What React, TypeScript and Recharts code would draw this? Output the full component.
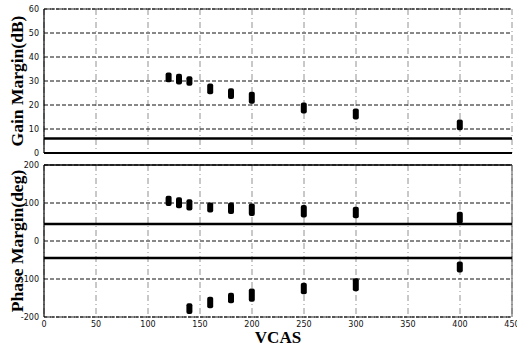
import React from 'react';
import { ComposedChart, Bar, XAxis, YAxis, CartesianGrid, ReferenceLine } from 'recharts';

const vcas = [120, 130, 140, 160, 180, 200, 250, 300, 400];
const gainLow = [29.5, 28.5, 28, 24.5, 22.5, 20.5, 16.5, 14, 9.5];
const gainHigh = [33.5, 33, 32, 29, 27, 25.5, 21, 18.5, 14];
const phaseUpLow = [92, 86, 80, 75, 71, 66, 62, 60, 46];
const phaseUpHigh = [119, 115, 110, 101, 101, 99, 95, 90, 77];
const phaseLoLow = [null, null, -192, -177, -164, -160, -140, -132, -83];
const phaseLoHigh = [null, null, -164, -147, -136, -125, -110, -98, -54];

const xTicks = [0, 50, 100, 150, 200, 250, 300, 350, 400, 450];
const gainTicks = [0, 10, 20, 30, 40, 50, 60];
const phaseTicks = [-200, -100, 0, 100, 200];
const gainLimit = 6;
const phaseLimit = 45;

const gainData = vcas.map((v, i) => ({ vcas: v, gain: [gainLow[i], gainHigh[i]] }));
const phaseData = vcas.map((v, i) => ({
  vcas: v,
  up: [phaseUpLow[i], phaseUpHigh[i]],
  lo: phaseLoLow[i] == null ? null : [phaseLoLow[i], phaseLoHigh[i]],
}));

const tickStyle = { fontSize: 8, fill: '#111', fontFamily: 'DejaVu Sans' };

const sideLabel = (text: string) => (props: any) => {
  const vb = props.viewBox || {};
  const cy = vb.y + vb.height / 2;
  return (
    <text
      x={17}
      y={cy}
      transform={`rotate(-90, 17, ${cy})`}
      textAnchor="middle"
      dominantBaseline="central"
      style={{ fontFamily: 'Liberation Serif', fontWeight: 'bold', fontSize: 17.5, fill: '#000' }}
    >
      {text}
    </text>
  );
};

export default function App() {
  return (
    <div style={{ position: 'absolute', left: 0, top: 0, width: 517, height: 347, background: '#fff' }}>
      <div style={{ position: 'absolute', left: 0, top: 0 }}>
        <ComposedChart width={517} height={160} data={gainData} margin={{ top: 9, right: 5, left: 0, bottom: 7 }}>
          <CartesianGrid horizontal={false} vertical stroke="#777" strokeDasharray="6 3 1 3" strokeWidth={0.8} />
          <CartesianGrid horizontal vertical={false} stroke="#111" strokeDasharray="4 2" />
          <XAxis type="number" dataKey="vcas" domain={[0, 450]} ticks={xTicks} hide height={0} />
          <YAxis
            type="number"
            domain={[0, 60]}
            ticks={gainTicks}
            width={44}
            tick={tickStyle}
            tickLine={false}
            tickSize={2}
            tickMargin={3}
            axisLine={{ stroke: '#000', strokeWidth: 1.2 }}
            interval={0}
            label={sideLabel('Gain Margin(dB)')}
          />
          <ReferenceLine y={60} stroke="#222" strokeWidth={1.2} strokeDasharray="3 1" />
          <ReferenceLine y={0} stroke="#000" strokeWidth={2} />
          <ReferenceLine y={gainLimit} stroke="#000" strokeWidth={2.5} />
          <Bar dataKey="gain" fill="#000" barSize={6} radius={2} isAnimationActive={false} />
        </ComposedChart>
      </div>
      <div style={{ position: 'absolute', left: 0, top: 160 }}>
        <ComposedChart width={517} height={187} data={phaseData} barGap={-6} margin={{ top: 5, right: 5, left: 0, bottom: 0 }}>
          <CartesianGrid horizontal={false} vertical stroke="#777" strokeDasharray="6 3 1 3" strokeWidth={0.8} />
          <CartesianGrid horizontal vertical={false} stroke="#111" strokeDasharray="4 2" />
          <XAxis
            type="number"
            dataKey="vcas"
            domain={[0, 450]}
            ticks={xTicks}
            interval={0}
            height={30}
            tick={tickStyle}
            tickLine={false}
            tickSize={2}
            tickMargin={2}
            axisLine={{ stroke: '#222', strokeWidth: 1.2, strokeDasharray: '3 1' }}
            label={{
              value: 'VCAS',
              position: 'insideBottom',
              offset: 4,
              style: { fontFamily: 'Liberation Serif', fontWeight: 'bold', fontSize: 17, fill: '#000' },
            }}
          />
          <YAxis
            type="number"
            domain={[-200, 200]}
            ticks={phaseTicks}
            width={44}
            tick={tickStyle}
            tickLine={false}
            tickSize={2}
            tickMargin={3}
            axisLine={{ stroke: '#000', strokeWidth: 1.2 }}
            interval={0}
            label={sideLabel('Phase Margin(deg)')}
          />
          <ReferenceLine y={200} stroke="#000" strokeWidth={1.5} />
          <ReferenceLine x={450} stroke="#555" strokeWidth={1} />
          <ReferenceLine y={phaseLimit} stroke="#000" strokeWidth={2.5} />
          <ReferenceLine y={-phaseLimit} stroke="#000" strokeWidth={2.5} />
          <Bar dataKey="up" fill="#000" barSize={6} radius={2} isAnimationActive={false} />
          <Bar dataKey="lo" fill="#000" barSize={6} radius={2} isAnimationActive={false} />
        </ComposedChart>
      </div>
    </div>
  );
}
